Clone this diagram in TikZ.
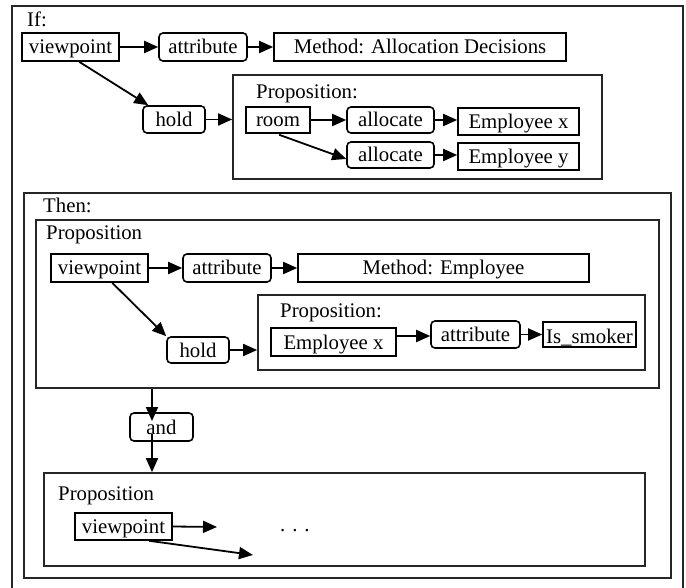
\documentclass[tikz,border=0pt]{standalone}
\usepackage{fontspec}
\setmainfont{Liberation Serif}
\usetikzlibrary{arrows.meta,calc}
\begin{document}
\begin{tikzpicture}[x=1pt,y=-1pt,
  every node/.style={font=\fontsize{20.8}{24}\selectfont},
  sq/.style={draw,line width=1.6pt,inner sep=0pt,text height=17pt,text depth=3pt,minimum height=27pt},
  rnd/.style={sq,rounded corners=4pt},
  frame/.style={draw,line width=1.7pt,draw=black!85,inner sep=0pt},
  lbl/.style={anchor=base west,inner sep=0pt},
  arr/.style={line width=1.8pt,-{Triangle[length=14pt,width=12pt]}}]
\useasboundingbox (0,0) rectangle (686,588);
\clip (0,0) rectangle (686,588);

% outer frame (runs past the lower edge)
\node[frame,minimum width=671pt,minimum height=596pt] (outer) at (347.5,304) {};

% ---------- If part ----------
\node[lbl] (iflbl) at (27,27) {If:};
\node[sq,minimum width=97pt,minimum height=28pt] (vp1) at (70.5,47) {viewpoint};
\node[rnd,minimum width=88pt,minimum height=28pt] (at1) at (203,47) {attribute};
\node[sq,minimum width=292pt,minimum height=28pt] (me1) at (420,47) {Method: Allocation Decisions};

\node[frame,minimum width=369pt,minimum height=104pt] (prop1) at (417.5,127) {};
\node[lbl] (prop1lbl) at (256,99) {Proposition:};
\node[rnd,minimum width=62pt] (hold1) at (174,119.5) {hold};
\node[sq,minimum width=64pt,minimum height=26pt] (room) at (278,120) {room};
\node[rnd,minimum width=87pt,minimum height=26pt] (al1) at (390.5,120) {allocate};
\node[sq,minimum width=121pt] (ex) at (518.5,121.5) {Employee x};
\node[rnd,minimum width=87pt,minimum height=26pt] (al2) at (390.5,155) {allocate};
\node[sq,minimum width=121pt] (ey) at (518.5,156.5) {Employee y};

\draw[arr] (vp1.east) -- (at1.west);
\draw[arr] (at1.east) -- (me1.west);
\draw[arr] ($(vp1.south west)+(58,0)$) -- ($(hold1.north west)+(6,0)$);
\draw[arr] (hold1.east) -- (hold1.east -| prop1.west);
\draw[arr] (room.east) -- (al1.west);
\draw[arr] ($(room.south west)+(34,1)$) -- ($(al2.west)+(0,4)$);
\draw[arr] (al1.east) -- (al1.east -| ex.west);
\draw[arr] (al2.east) -- (al2.east -| ey.west);

% ---------- Then part ----------
\node[frame,minimum width=647pt,minimum height=385pt] (then) at (347.5,385.5) {};
\node[lbl] (thenlbl) at (43,213) {Then:};

\node[frame,minimum width=623pt,minimum height=168pt] (propA) at (347.5,304) {};
\node[lbl] (propAlbl) at (46,240) {Proposition};
\node[sq,minimum width=97pt,minimum height=28pt] (vp2) at (99.5,268) {viewpoint};
\node[rnd,minimum width=88pt,minimum height=28pt] (at2) at (227,268) {attribute};
\node[sq,minimum width=291pt,minimum height=28pt] (me2) at (443.5,268) {Method: Employee};

\node[frame,minimum width=387pt,minimum height=75pt] (propB) at (451.5,332.5) {};
\node[lbl] (propBlbl) at (280,318) {Proposition:};
\node[rnd,minimum width=62pt,minimum height=26pt] (hold2) at (198,350) {hold};
\node[sq,minimum width=125pt,minimum height=28pt] (ex2) at (333.5,342) {Employee x};
\node[rnd,minimum width=89pt] (at3) at (475.5,334.5) {attribute};
% the underscore sits on the lower border of this box
\node[sq,minimum width=93pt,minimum height=25pt,text height=19pt,text depth=0pt] (sm) at (589.5,334.5) {Is\_smoker};

\draw[arr] (vp2.east) -- (at2.west);
\draw[arr] (at2.east) -- (me2.west);
\draw[arr] ($(vp2.south west)+(62,0)$) -- ($(hold2.north west)+(0,0)$);
\draw[arr] (hold2.east) -- (hold2.east -| propB.west);
\draw[arr] ($(ex2.east)+(0,-6)$) -- ($(ex2.east -| at3.west)+(0,-6)$);
\draw[arr] (at3.east) -- (at3.east -| sm.west);

\node[rnd,minimum width=63pt,minimum height=28pt] (and) at (161.5,427) {and};
\coordinate (andin) at (152,421);
\coordinate (andout) at (152,434);
\draw[arr] (propA.south -| andin) -- (andin);

\node[frame,minimum width=601pt,minimum height=93pt] (propC) at (344.5,519.5) {};
\draw[arr] (andout) -- (andout |- propC.north);
\node[lbl] (propClbl) at (58,500) {Proposition};
\node[sq,minimum width=97pt,minimum height=27pt] (vp3) at (123.5,526.5) {viewpoint};
\coordinate (free1) at (217,527);
\coordinate (free2) at (253,555);
\draw[arr] (vp3.east) -- (free1);
\draw[arr] ($(vp3.south west)+(75,0)$) -- (free2);
\node[lbl] (dots) at (280,531) {. . .};
\end{tikzpicture}
\end{document}
